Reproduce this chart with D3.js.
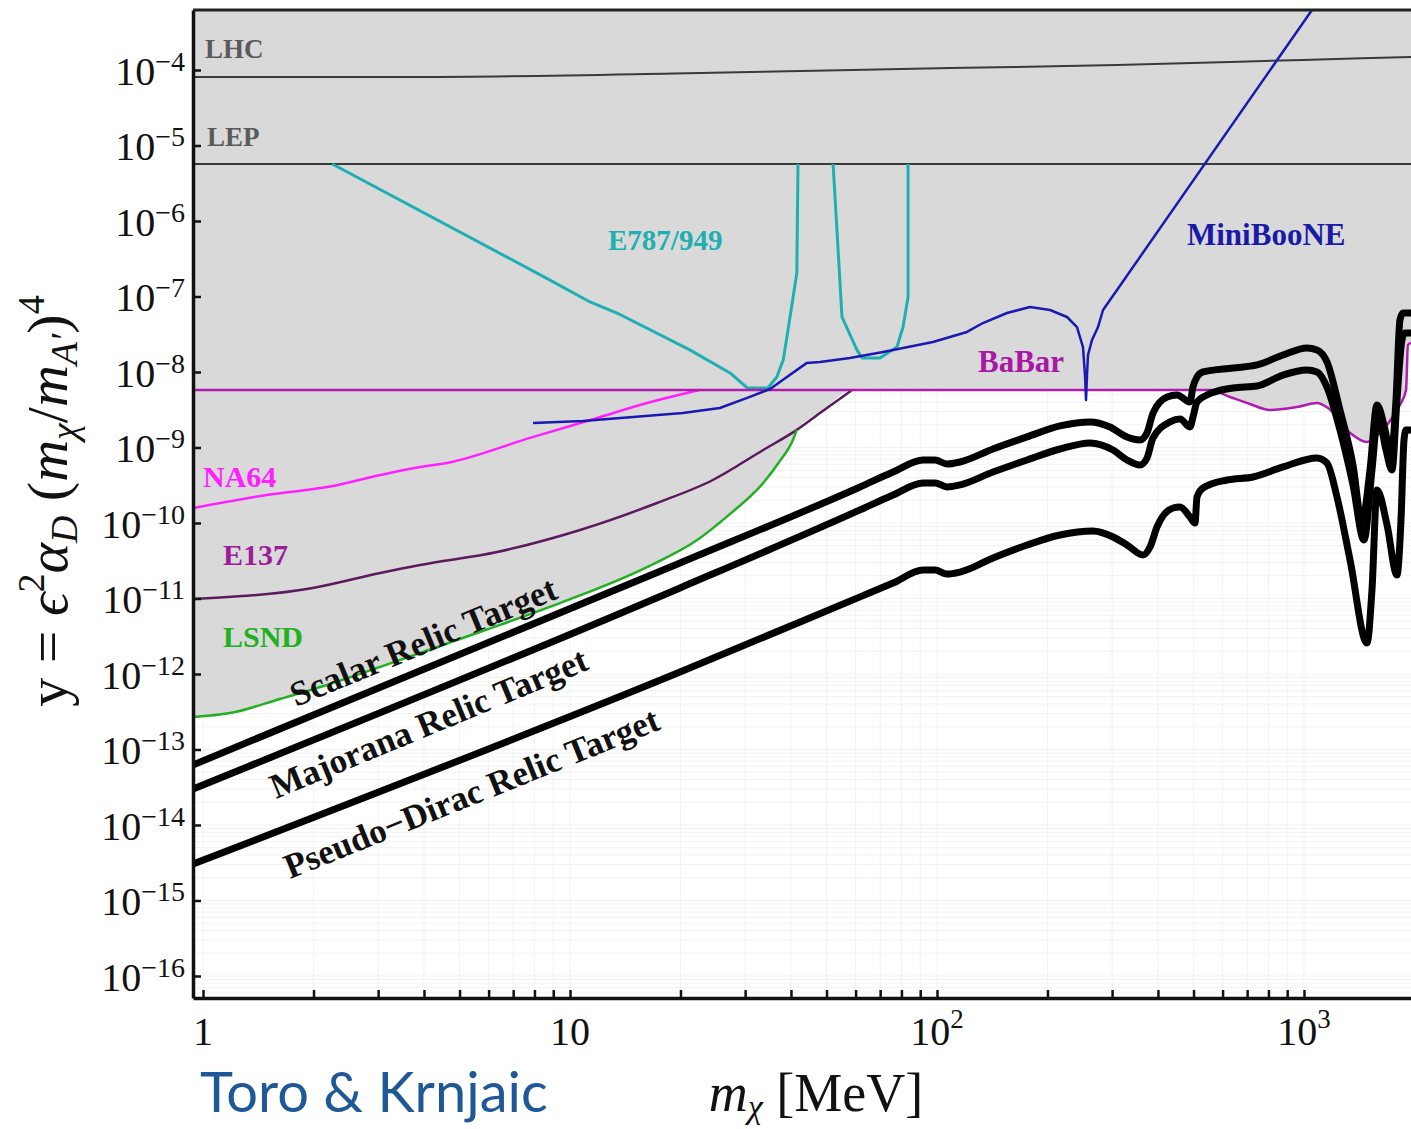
<!DOCTYPE html>
<meta charset="utf-8">
<style>
body { margin: 0; background: #fff; }
svg { display: block; font-family: "Liberation Serif", "Times New Roman", serif; }
.lbl { font-weight: bold; }
</style>
<svg width="1411" height="1129"></svg>
<script src="https://d3js.org/d3.v7.min.js"></script>
<script>
// all curves are [m_chi (MeV), y]
var lhc = [[0.939, 8.08e-5], [3.9, 8.08e-5], [22.6, 9.1e-5], [108.5, 1.06e-4], [309, 1.16e-4], [994, 1.36e-4], [1957, 1.49e-4]];
var lep = [[0.939, 5.69e-6], [1957, 5.69e-6]];

var e787a = [[2.25, 5.69e-6], [8.82, 1.65e-7], [11.34, 8.46e-8], [13.43, 6.04e-8], [21.2, 1.96e-8], [27.3, 9.7e-9],
  [30.4, 6.14e-9], [34.6, 6.14e-9], [36.6, 8.59e-9], [38.1, 1.44e-8], [39.0, 2.91e-8], [41.5, 2.05e-7], [41.8, 5.69e-6]];
var e787b = [[52.1, 5.69e-6], [55.1, 5.35e-8], [60.5, 1.96e-8], [62.5, 1.53e-8], [69.9, 1.53e-8], [77.8, 2.14e-8],
  [80.8, 3.94e-8], [83.4, 9.84e-8], [83.4, 5.69e-6]];

var na64 = [[0.939, 1.58e-10], [1.49, 2.35e-10], [2.26, 3.09e-10], [3.04, 4.32e-10], [3.9, 5.52e-10], [4.62, 6.23e-10],
  [7.78, 1.34e-9], [11.85, 2.46e-9], [16.21, 3.88e-9], [20.8, 5.27e-9], [22.6, 5.78e-9]];

var e137 = [[0.939, 9.85e-12], [1.99, 1.38e-11], [3.04, 2.18e-11], [3.9, 2.78e-11], [6.33, 4.13e-11], [10.65, 8.07e-11],
  [17.26, 1.84e-10], [24.5, 3.71e-10], [33.6, 9.27e-10], [41.5, 1.71e-9], [48.0, 2.86e-9], [58.7, 5.78e-9]];

var lsnd = [[0.939, 2.69e-13], [1.185, 3.04e-13], [1.62, 4.67e-13], [2.22, 7.38e-13], [3.04, 1.24e-12], [5.68, 3.6e-12],
  [9.57, 9.0e-12], [16.21, 2.61e-11], [22.2, 5.96e-11], [27.3, 1.32e-10], [33.6, 3.39e-10], [37.3, 6.62e-10],
  [40.5, 1.26e-9], [41.5, 1.71e-9]];

var babar = [[0.939, 5.78e-9], [554.5, 5.78e-9], [628.7, 4.67e-9], [712.7, 3.77e-9], [808, 3.14e-9], [957, 3.44e-9],
  [1085, 3.88e-9], [1163, 3.33e-9], [1335, 1.56e-9], [1485, 1.18e-9], [1611, 1.56e-9], [1737, 2.46e-9],
  [1826, 3.66e-9], [1897, 5.78e-9], [1920, 2.28e-8], [1957, 2.42e-8]];

var miniboone = [[7.93, 2.11e-9], [10.85, 2.24e-9], [14.85, 2.53e-9], [20.3, 2.86e-9], [25.6, 3.33e-9], [30.4, 4.53e-9],
  [35.1, 5.95e-9], [39.0, 8.59e-9], [44.2, 1.32e-8], [48.0, 1.36e-8], [57.9, 1.53e-8], [71.3, 1.84e-8],
  [97.5, 2.5e-8], [120.7, 3.39e-8], [133.4, 4.45e-8], [155.1, 6.04e-8], [179.2, 7.26e-8], [203.2, 6.62e-8],
  [226.1, 5.35e-8], [240.7, 3.94e-8], [249.9, 2.14e-8], [253.1, 9.1e-9], [254.7, 4.26e-9], [256.3, 9.1e-9],
  [257.9, 1.68e-8], [264.5, 2.66e-8], [274.6, 3.94e-8], [283.4, 6.62e-8], [309.4, 1.22e-7], [1148, 1.15e-3]];

var scalar = [[0.939, 6.24e-14], [19.94, 2.95e-11], [61.7, 3.0e-10], [75.9, 4.73e-10], [91.6, 6.83e-10], [98.8, 6.83e-10],
  [106.5, 6.04e-10], [115.5, 6.43e-10], [142.1, 9.55e-10], [175.9, 1.38e-9], [216.3, 1.93e-9], [261.2, 2.18e-9],
  [296.1, 1.87e-9], [329.4, 1.38e-9], [357.4, 1.26e-9], [373.5, 1.56e-9], [387.8, 2.86e-9], [423.4, 4.67e-9],
  [450.8, 4.96e-9], [489.1, 4.01e-9], [498.4, 6.33e-9], [511, 8.59e-9], [530.6, 1.0e-8], [640.6, 1.13e-8],
  [744.7, 1.24e-8], [876.6, 1.68e-8], [1019, 2.08e-8], [1085, 1.96e-8], [1155, 1.36e-8], [1253, 3.14e-9],
  [1360, 5.86e-10], [1439, 1.03e-10], [1513, 5.04e-10], [1581, 3.66e-9], [1663, 1.71e-9], [1726, 7.48e-10],
  [1781, 4.26e-9], [1826, 4.88e-8], [1861, 6.04e-8], [1957, 6.04e-8]];

var majorana = [[0.939, 3.0e-14], [19.94, 1.38e-11], [61.7, 1.49e-10], [75.9, 2.35e-10], [91.6, 3.39e-10], [98.8, 3.39e-10],
  [106.5, 3.0e-10], [115.5, 3.19e-10], [142.1, 4.73e-10], [175.9, 6.83e-10], [216.3, 9.55e-10], [261.2, 1.15e-9],
  [301.8, 9.27e-10], [329.4, 6.83e-10], [357.4, 5.86e-10], [373.5, 7.26e-10], [387.8, 1.34e-9], [431.5, 2.18e-9],
  [459.3, 2.38e-9], [489.1, 1.87e-9], [498.4, 2.53e-9], [511, 4.01e-9], [544, 4.96e-9], [640.6, 6.14e-9],
  [744.7, 6.53e-9], [876.6, 9.1e-9], [1019, 1.06e-8], [1085, 1.0e-8], [1155, 6.33e-9], [1253, 1.71e-9],
  [1360, 3.19e-10], [1457, 5.96e-11], [1532, 5.04e-10], [1591, 2.69e-9], [1673, 9.27e-10], [1737, 5.04e-10],
  [1792, 4.26e-9], [1849, 2.66e-8], [1885, 3.29e-8], [1957, 3.29e-8]];

var pseudoDirac = [[0.939, 3.04e-15], [19.94, 1.06e-12], [61.7, 1.05e-11], [75.9, 1.6e-11], [91.6, 2.38e-11], [98.8, 2.38e-11],
  [106.5, 2.11e-11], [115.5, 2.24e-11], [142.1, 3.44e-11], [175.9, 5.11e-11], [216.3, 6.94e-11], [266.2, 7.83e-11],
  [301.8, 6.53e-11], [329.4, 5.11e-11], [364.2, 3.77e-11], [380.6, 4.81e-11], [397.7, 8.85e-11], [439.6, 1.58e-10],
  [459.3, 1.63e-10], [489.1, 1.2e-10], [504.7, 1.0e-10], [511, 2.21e-10], [530.6, 2.91e-10], [617, 3.71e-10],
  [726.2, 4.07e-10], [876.6, 5.52e-10], [1085, 7.26e-10], [1155, 6.23e-10], [1230, 2.21e-10], [1335, 3.24e-11],
  [1485, 2.57e-12], [1532, 1.3e-11], [1581, 2.74e-10], [1684, 9.41e-11], [1792, 2.05e-11], [1838, 1.1e-10],
  [1873, 1.26e-9], [1897, 1.71e-9], [1957, 1.71e-9]];

// ticks
var xDecades = [1, 10, 100, 1000];
var xTickLabels = [["1", ""], ["10", ""], ["10", "2"], ["10", "3"]];
var yTickExps = [-16, -15, -14, -13, -12, -11, -10, -9, -8, -7, -6, -5, -4];

var svg = d3.select("svg"),
    plot = {l: 193, r: 1411, t: 10, b: 998};

var x = d3.scaleLog().domain([0.939, 1957]).range([plot.l, plot.r]),
    y = d3.scaleLog().domain([5.11e-17, 6.23e-4]).range([plot.b, plot.t]);

svg.append("defs").append("clipPath").attr("id", "clip")
  .append("rect").attr("x", plot.l).attr("y", plot.t)
  .attr("width", plot.r - plot.l).attr("height", plot.b - plot.t);

var g = svg.append("g").attr("clip-path", "url(#clip)");

// faint grid
var xGrid = [], yGrid = [];
xDecades.forEach(function(d) { for (var k = 1; k < 10; k++) if (d * k <= 1957) xGrid.push(d * k); });
for (var e = -17; e <= -4; e++) for (var k = 1; k < 10; k++) {
  var v = k * Math.pow(10, e);
  if (v >= 5.11e-17 && v <= 6.23e-4) yGrid.push(v);
}
g.selectAll(".gx").data(xGrid).enter().append("line")
  .attr("x1", x).attr("x2", x).attr("y1", plot.t).attr("y2", plot.b)
  .attr("stroke", "#f2f2f2").attr("stroke-width", 1);
g.selectAll(".gy").data(yGrid).enter().append("line")
  .attr("y1", y).attr("y2", y).attr("x1", plot.l).attr("x2", plot.r)
  .attr("stroke", "#f2f2f2").attr("stroke-width", 1);

// excluded (grey) region: envelope of LSND, E137 and BaBar
var envelope = lsnd
  .concat(e137.filter(function(d) { return d[0] > 41.5; }))
  .concat(babar.filter(function(d) { return d[0] > 58.7; }));

g.append("path")
  .datum(envelope)
  .attr("fill", "#d9d9d9")
  .attr("d", d3.area()
    .x(function(d) { return x(d[0]); })
    .y0(plot.t - 5)
    .y1(function(d) { return y(d[1]); })
    .curve(d3.curveMonotoneX));

function line(curve) {
  return d3.line()
    .x(function(d) { return x(d[0]); })
    .y(function(d) { return y(d[1]); })
    .curve(curve || d3.curveMonotoneX);
}

function draw(data, color, width, curve) {
  g.append("path").datum(data)
    .attr("fill", "none")
    .attr("stroke", color)
    .attr("stroke-width", width)
    .attr("stroke-linejoin", "round")
    .attr("d", line(curve));
}

draw(lhc, "#3a3a3a", 2);
draw(lep, "#3a3a3a", 2);
draw(e787a, "#20afb0", 3, d3.curveLinear);
draw(e787b, "#20afb0", 3, d3.curveLinear);
draw(e137, "#5c1a5e", 2.5);
draw(lsnd, "#22b022", 2.5);
draw(na64, "#ff20ff", 2.5);
draw(babar, "#b01cb0", 2.5);
draw(miniboone, "#1a1ab0", 2.5, d3.curveLinear);
draw(scalar, "#000", 7);
draw(majorana, "#000", 7);
draw(pseudoDirac, "#000", 7);

// curve labels
var labels = [
  {t: "LHC", x: 205, y: 58, c: "#5a5a5a", s: 27},
  {t: "LEP", x: 207, y: 146, c: "#5a5a5a", s: 27},
  {t: "E787/949", x: 608, y: 250, c: "#20afb0", s: 29},
  {t: "MiniBooNE", x: 1187, y: 245, c: "#1a1aa8", s: 31},
  {t: "BaBar", x: 978, y: 372, c: "#a818a4", s: 31},
  {t: "NA64", x: 203, y: 487, c: "#ff20ff", s: 30},
  {t: "E137", x: 223, y: 565, c: "#9c1c9c", s: 30},
  {t: "LSND", x: 223, y: 647, c: "#20b020", s: 30}
];
svg.selectAll(".lbl").data(labels).enter().append("text")
  .attr("class", "lbl")
  .attr("x", function(d) { return d.x; })
  .attr("y", function(d) { return d.y; })
  .attr("fill", function(d) { return d.c; })
  .attr("font-size", function(d) { return d.s; })
  .text(function(d) { return d.t; });

var relic = [
  {t: "Scalar Relic Target", x: 296, y: 707, a: -22.5},
  {t: "Majorana Relic Target", x: 276, y: 799, a: -22.5},
  {t: "Pseudo\u2212Dirac Relic Target", x: 290, y: 879, a: -22}
];
svg.selectAll(".relic").data(relic).enter().append("text")
  .attr("class", "lbl")
  .attr("font-size", 35)
  .attr("fill", "#111")
  .attr("transform", function(d) { return "translate(" + d.x + "," + d.y + ") rotate(" + d.a + ")"; })
  .text(function(d) { return d.t; });

// axes
var yAxis = svg.append("g")
  .attr("transform", "translate(" + plot.l + ",0)")
  .call(d3.axisLeft(y)
    .tickValues(yTickExps.map(function(e) { return Math.pow(10, e); }))
    .tickSize(-8).tickSizeOuter(0).tickFormat(""));
var xAxis = svg.append("g")
  .attr("transform", "translate(0," + plot.b + ")")
  .call(d3.axisBottom(x).tickValues(xGrid)
    .tickSize(-8).tickSizeOuter(0).tickFormat(""));
[yAxis, xAxis].forEach(function(a) {
  a.select(".domain").attr("stroke", "#111").attr("stroke-width", 3.5);
  a.selectAll(".tick line").attr("stroke", "#111").attr("stroke-width", 2.5);
});
svg.append("line")
  .attr("x1", plot.l).attr("x2", plot.r).attr("y1", plot.t).attr("y2", plot.t)
  .attr("stroke", "#222").attr("stroke-width", 3);

// tick labels
var yl = svg.selectAll(".ylab").data(yTickExps).enter().append("text")
  .attr("x", 185)
  .attr("y", function(e) { return y(Math.pow(10, e)) + 15; })
  .attr("text-anchor", "end")
  .attr("font-size", 40)
  .attr("fill", "#111");
yl.append("tspan").text("10");
yl.append("tspan").attr("font-size", 28).attr("dy", -14)
  .text(function(e) { return "\u2212" + (-e); });

var xl = svg.selectAll(".xlab").data(xDecades).enter().append("text")
  .attr("x", function(d) { return x(d); })
  .attr("y", 1045)
  .attr("text-anchor", "middle")
  .attr("font-size", 40)
  .attr("fill", "#111");
xl.append("tspan").text(function(d, i) { return xTickLabels[i][0]; });
xl.append("tspan").attr("font-size", 27).attr("dy", -17)
  .text(function(d, i) { return xTickLabels[i][1]; });

// axis titles
var xt = svg.append("text")
  .attr("x", 816).attr("y", 1111)
  .attr("text-anchor", "middle")
  .attr("font-size", 54)
  .attr("fill", "#111");
xt.append("tspan").attr("font-style", "italic").text("m");
xt.append("tspan").attr("font-style", "italic").attr("font-size", 34).attr("dy", 7).text("\u03c7");
xt.append("tspan").attr("dy", -7).text(" [MeV]");

var yt = svg.append("text")
  .attr("transform", "translate(67,501) rotate(-90)")
  .attr("text-anchor", "middle")
  .attr("font-size", 58)
  .attr("fill", "#111");
yt.append("tspan").text("y = ");
yt.append("tspan").attr("font-style", "italic").text("\u03f5");
yt.append("tspan").attr("font-size", 38).attr("dy", -23).text("2");
yt.append("tspan").attr("font-style", "italic").attr("dy", 23).text("\u03b1");
yt.append("tspan").attr("font-style", "italic").attr("font-size", 38).attr("dy", 10).text("D");
yt.append("tspan").attr("dy", -10).text(" (");
yt.append("tspan").attr("font-style", "italic").text("m");
yt.append("tspan").attr("font-style", "italic").attr("font-size", 38).attr("dy", 10).text("\u03c7");
yt.append("tspan").attr("dy", -10).text("/");
yt.append("tspan").attr("font-style", "italic").text("m");
yt.append("tspan").attr("font-style", "italic").attr("font-size", 38).attr("dy", 10).text("A\u2032");
yt.append("tspan").attr("dy", -10).text(")");
yt.append("tspan").attr("font-size", 38).attr("dy", -23).text("4");

svg.append("text")
  .attr("x", 200).attr("y", 1112)
  .attr("font-family", "Lato, 'Open Sans', sans-serif")
  .attr("font-size", 56)
  .attr("fill", "#1f5896")
  .text("Toro & Krnjaic");
</script>
